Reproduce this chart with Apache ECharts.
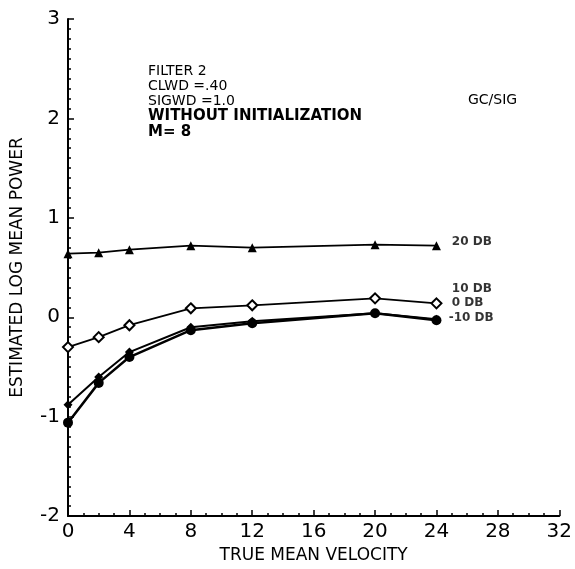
<!DOCTYPE html>
<html>
<head>
<meta charset="utf-8">
<script src="https://cdn.jsdelivr.net/npm/echarts@6/dist/echarts.min.js"></script>
<style>html,body{margin:0;padding:0;background:#fff;}#c{width:575px;height:569px;}</style>
</head>
<body>
<div id="c"></div>
<script>
var velocities = [0, 2, 4, 8, 12, 20, 24];
var db20 = [0.64, 0.65, 0.68, 0.72, 0.70, 0.73, 0.72];
var db10 = [-0.30, -0.20, -0.08, 0.09, 0.12, 0.19, 0.14];
var db0 = [-0.88, -0.60, -0.35, -0.10, -0.04, 0.04, -0.02];
var dbm10 = [-1.06, -0.66, -0.40, -0.13, -0.06, 0.04, -0.03];
var seriesNames = ['20 DB', '10 DB', '0 DB', '-10 DB'];
var labelPos = [[25.0, 0.76], [25.0, 0.29], [25.0, 0.14], [24.8, -0.01]];
var infoLines = ['FILTER 2', 'CLWD =.40', 'SIGWD =1.0'];
var xTicks = [0, 4, 8, 12, 16, 20, 24, 28, 32];

function pairs(v){ return velocities.map(function(x,i){ return [x, v[i]]; }); }
var font = 'DejaVu Sans';
var chart = echarts.init(document.getElementById('c'));
chart.setOption({
  backgroundColor: '#fff',
  animation: false,
  grid: {left: 68, right: 12, top: 19, bottom: 52},
  xAxis: {
    type: 'value', min: 0, max: 32, interval: 4,
    axisLine: {onZero: false, lineStyle: {color: '#000', width: 2}},
    axisTick: {inside: true, length: 6, lineStyle: {color: '#000', width: 1.5}},
    minorTick: {show: true, splitNumber: 4, length: 3, lineStyle: {color: '#000', width: 1.5}},
    splitLine: {show: false},
    axisLabel: {color: '#000', fontSize: 20, fontFamily: font, margin: 6},
    name: 'TRUE MEAN VELOCITY', nameLocation: 'middle', nameGap: 30,
    nameTextStyle: {color: '#000', fontSize: 17, fontFamily: font}
  },
  yAxis: {
    type: 'value', min: -2, max: 3, interval: 1,
    axisLine: {onZero: false, lineStyle: {color: '#000', width: 2}},
    axisTick: {inside: true, length: 6, lineStyle: {color: '#000', width: 1.5}},
    minorTick: {show: true, splitNumber: 10, length: 3, lineStyle: {color: '#000', width: 1.5}},
    splitLine: {show: false},
    axisLabel: {color: '#000', fontSize: 20, fontFamily: font, margin: 8},
    name: 'ESTIMATED LOG MEAN POWER', nameLocation: 'middle', nameGap: 42, nameRotate: 90,
    nameTextStyle: {color: '#000', fontSize: 17, fontFamily: font}
  },
  series: [
    {name: seriesNames[0], type: 'line', data: pairs(db20), symbol: 'triangle', symbolSize: 9,
     lineStyle: {color: '#000', width: 1.8}, itemStyle: {color: '#000'}},
    {name: seriesNames[1], type: 'line', data: pairs(db10), symbol: 'diamond', symbolSize: 10,
     lineStyle: {color: '#000', width: 1.8}, itemStyle: {color: '#fff', borderColor: '#000', borderWidth: 2}},
    {name: seriesNames[2], type: 'line', data: pairs(db0), symbol: 'diamond', symbolSize: 9,
     lineStyle: {color: '#000', width: 2}, itemStyle: {color: '#000'}},
    {name: seriesNames[3], type: 'line', data: pairs(dbm10), symbol: 'circle', symbolSize: 10,
     lineStyle: {color: '#000', width: 2.5}, itemStyle: {color: '#000'}},
    {type: 'scatter', symbolSize: 0, silent: true,
     data: labelPos.map(function(p, i){ return {value: p, label: {formatter: seriesNames[i]}}; }),
     label: {show: true, position: 'right', distance: 0, color: '#000', fontSize: 12, fontWeight: 'bold', fontFamily: font}}
  ],
  graphic: [
    {type: 'text', left: 148, top: 64, style: {text: infoLines.join('\n'), fill: '#000', font: '14px "DejaVu Sans"', lineHeight: 15}},
    {type: 'text', left: 148, top: 109, style: {text: 'WITHOUT INITIALIZATION', fill: '#000', font: 'bold 15px "DejaVu Sans"'}},
    {type: 'text', left: 148, top: 125, style: {text: 'M= 8', fill: '#000', font: 'bold 15px "DejaVu Sans"'}},
    {type: 'text', left: 468, top: 93, style: {text: 'GC/SIG', fill: '#000', font: '14px "DejaVu Sans"'}}
  ]
});
</script>
</body>
</html>
